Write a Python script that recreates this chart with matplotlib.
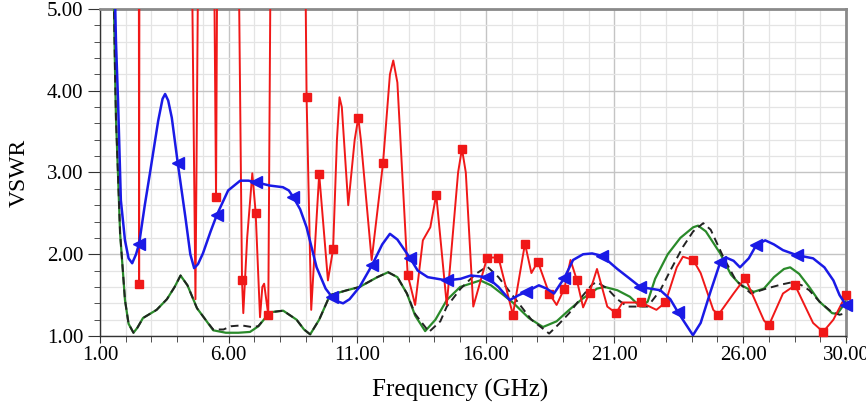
import numpy as np
import matplotlib
matplotlib.use('Agg')
import matplotlib.pyplot as plt
from matplotlib import ticker

# ---- data (GHz, VSWR); values above 5 are off the chart ----
red_f = [1.0, 2.50, 2.52, 2.54, 4.46, 4.71, 4.90, 5.35, 5.51, 5.61, 6.28, 6.52, 6.57, 6.72, 6.92,
         7.05, 7.22, 7.31, 7.38, 7.46, 7.54, 7.70, 8.88, 9.03, 9.21, 9.52, 9.86, 10.06, 10.21, 10.31,
         10.40, 10.65, 10.90, 11.04, 11.14, 11.56, 12.00, 12.27, 12.40, 12.56, 12.96, 13.25, 13.55,
         13.84, 14.07, 14.48, 14.92, 15.07, 15.22, 15.51, 16.05, 16.49, 17.05, 17.52, 17.77, 18.02,
         18.46, 18.75, 19.05, 19.29, 19.54, 19.78, 20.03, 20.32, 20.72, 21.06, 21.31, 22.04, 22.63,
         22.98, 23.42, 23.66, 24.06, 24.35, 24.84, 25.04, 25.63, 26.08, 26.81, 27.0, 27.55, 28.02,
         28.72, 29.11, 29.51, 30.0]
red_v = [9, 9, 1.64, 9, 9, 1.45, 9, 9, 2.70, 9, 9, 1.68, 1.28, 2.2, 2.99,
         2.51, 1.23, 1.6, 1.64, 1.45, 1.26, 9, 9, 3.92, 1.32, 2.98, 1.68, 2.06, 3.4, 3.92,
         3.8, 2.6, 3.4, 3.67, 3.4, 1.93, 3.11, 4.2, 4.37, 4.1, 1.75, 1.38, 2.17,
         2.33, 2.73, 1.38, 3.0, 3.29, 3.0, 1.36, 1.96, 1.96, 1.26, 2.13, 1.77, 1.91,
         1.52, 1.38, 1.58, 1.93, 1.68, 1.35, 1.53, 1.82, 1.36, 1.28, 1.41, 1.41, 1.32,
         1.41, 1.84, 1.97, 1.93, 1.77, 1.32, 1.26, 1.52, 1.71, 1.19, 1.13, 1.52, 1.62,
         1.16, 1.05, 1.2, 1.5]
red_marks = [2.52, 5.51, 6.52, 7.05, 7.54, 9.03, 9.52, 10.06, 11.04, 12.00, 12.96, 14.07, 15.07,
             16.05, 16.49, 17.05, 17.52, 18.02, 18.46, 19.05, 19.54, 20.03, 21.06, 22.04, 22.98,
             24.06, 25.04, 26.08, 27.0, 28.02, 29.11, 30.0]

blue_f = [1.55, 1.62, 1.70, 1.81, 1.97, 2.11, 2.25, 2.40, 2.52, 2.74, 2.94, 3.26, 3.43, 3.53, 3.65,
          3.79, 4.02, 4.32, 4.51, 4.66, 4.81, 5.00, 5.30, 5.54, 5.98, 6.45, 6.77, 7.07, 7.60, 8.11,
          8.34, 8.51, 8.78, 9.03, 9.42, 9.77, 10.01, 10.26, 10.45, 10.70, 11.09, 11.58, 11.97, 12.27,
          12.56, 13.06, 13.35, 13.74, 14.48, 15.02, 15.41, 16.05, 16.49, 16.93, 17.28, 17.57, 18.06,
          18.36, 18.65, 19.05, 19.39, 19.78, 20.13, 20.52, 21.11, 21.60, 22.00, 22.39, 22.78, 23.17,
          23.47, 23.76, 24.05, 24.35, 24.74, 25.11, 25.33, 25.63, 25.88, 26.22, 26.51, 26.86, 27.20,
          27.55, 28.08, 28.72, 29.16, 29.51, 29.75, 30.0]
blue_v = [5.6, 4.6, 3.88, 2.66, 2.17, 1.95, 1.89, 2.0, 2.13, 2.6, 2.99, 3.63, 3.9, 3.96, 3.88,
          3.67, 3.12, 2.45, 2.0, 1.83, 1.88, 2.01, 2.28, 2.48, 2.78, 2.90, 2.90, 2.88, 2.84, 2.82,
          2.78, 2.70, 2.55, 2.33, 1.84, 1.58, 1.48, 1.42, 1.40, 1.45, 1.60, 1.87, 2.12, 2.25,
          2.18, 1.95, 1.80, 1.72, 1.68, 1.70, 1.74, 1.72, 1.60, 1.44, 1.50, 1.54, 1.62,
          1.58, 1.52, 1.71, 1.93, 2.0, 2.01, 1.98, 1.82, 1.70, 1.60, 1.58, 1.56, 1.45,
          1.29, 1.15, 1.01, 1.16, 1.55, 1.90, 1.96, 1.92, 1.84, 1.95, 2.11, 2.17, 2.12,
          2.05, 1.99, 1.95, 1.84, 1.68, 1.50, 1.38]
blue_marks = [2.52, 4.02, 5.54, 7.07, 8.51, 10.01, 11.58, 13.06, 14.48, 16.05, 17.57, 19.05,
              20.52, 22.00, 23.47, 25.11, 26.51, 28.08, 30.0]

green_f = [1.52, 1.58, 1.62, 1.78, 1.97, 2.11, 2.30, 2.45, 2.67, 3.2, 3.6, 3.9, 4.13, 4.4, 4.77,
           5.10, 5.40, 5.89, 6.38, 6.83, 7.16, 7.60, 8.12, 8.64, 8.93, 9.17, 9.52, 9.94, 10.60,
           11.09, 11.78, 12.20, 12.56, 12.93, 13.25, 13.64, 14.04, 14.48, 15.00, 15.78, 16.20,
           16.69, 17.08, 17.67, 18.22, 18.75, 19.24, 19.73, 20.32, 20.62, 21.11, 21.60, 22.0,
           22.29, 22.58, 23.07, 23.56, 24.06, 24.25, 24.55, 25.11, 25.53, 25.88, 26.41, 26.81,
           27.20, 27.59, 27.83, 28.18, 28.57, 28.97, 29.46, 29.66, 30.0]
green_v = [5.5, 4.3, 3.67, 2.26, 1.44, 1.15, 1.04, 1.1, 1.22, 1.32, 1.45, 1.6, 1.74, 1.62, 1.34,
           1.2, 1.07, 1.04, 1.04, 1.05, 1.12, 1.29, 1.31, 1.2, 1.08, 1.02, 1.2, 1.50, 1.56,
           1.6, 1.72, 1.78, 1.72, 1.52, 1.25, 1.06, 1.2, 1.44, 1.6, 1.68, 1.62,
           1.50, 1.40, 1.22, 1.11, 1.18, 1.32, 1.45, 1.58, 1.60, 1.56, 1.48, 1.36,
           1.42, 1.7, 2.0, 2.2, 2.33, 2.35, 2.28, 2.01, 1.75, 1.63, 1.54, 1.58,
           1.72, 1.82, 1.84, 1.76, 1.60, 1.42, 1.28, 1.27, 1.42]

black_f = [1.52, 1.58, 1.62, 1.78, 1.97, 2.11, 2.30, 2.45, 2.67, 3.2, 3.6, 3.9, 4.13, 4.4, 4.77,
           5.10, 5.40, 5.8, 6.1, 6.5, 6.9, 7.15, 7.60, 8.12, 8.64, 8.93, 9.17, 9.52, 9.94, 10.60,
           11.09, 11.78, 12.20, 12.56, 12.93, 13.25, 13.79, 14.23, 14.48, 15.02, 15.61, 16.05,
           16.49, 17.08, 17.77, 18.46, 18.85, 19.24, 19.73, 20.13, 20.32, 20.72, 21.11, 21.50,
           22.29, 22.78, 23.17, 23.66, 24.06, 24.45, 24.74, 25.24, 25.72, 26.31, 26.90, 27.49,
           27.94, 28.28, 28.57, 28.97, 29.46, 29.75, 30.0]
black_v = [5.5, 4.3, 3.67, 2.26, 1.44, 1.15, 1.04, 1.1, 1.22, 1.32, 1.45, 1.6, 1.74, 1.62, 1.34,
           1.2, 1.08, 1.08, 1.12, 1.13, 1.11, 1.12, 1.29, 1.31, 1.2, 1.08, 1.02, 1.2, 1.50, 1.56,
           1.6, 1.72, 1.78, 1.72, 1.52, 1.27, 1.05, 1.18, 1.36, 1.58, 1.76, 1.85,
           1.72, 1.48, 1.2, 1.03, 1.15, 1.28, 1.48, 1.63, 1.66, 1.58, 1.45, 1.36,
           1.36, 1.56, 1.8, 2.09, 2.28, 2.38, 2.3, 1.96, 1.68, 1.52, 1.58, 1.63,
           1.66, 1.62, 1.56, 1.42, 1.29, 1.26, 1.28]

x_major = [1, 6, 11, 16, 21, 26, 30]


def marked(f, v, marks):
    f = np.asarray(f)
    v = np.asarray(v)
    sel = np.isin(f, marks)
    return f[sel], v[sel]


plt.rcParams['font.family'] = ['Liberation Serif', 'DejaVu Serif']
fig = plt.figure(figsize=(8.66, 4.07), dpi=100)
ax = fig.add_axes([0.1155, 0.1744, 0.8614, 0.8036])

# grid
ax.set_xlim(1, 30)
ax.set_ylim(1, 5)
ax.xaxis.set_major_locator(ticker.FixedLocator(x_major))
ax.xaxis.set_minor_locator(ticker.MultipleLocator(1))
ax.yaxis.set_major_locator(ticker.MultipleLocator(1))
ax.yaxis.set_minor_locator(ticker.MultipleLocator(0.2))
ax.xaxis.set_major_formatter(ticker.FormatStrFormatter('%.2f'))
ax.yaxis.set_major_formatter(ticker.FormatStrFormatter('%.2f'))
ax.grid(which='minor', color='#e4e4e4', linewidth=0.9)
ax.grid(which='major', color='#c4c4c4', linewidth=1.0)
ax.set_axisbelow(True)

# curves
ax.plot(green_f, green_v, color='#2a8a2a', linewidth=1.6, zorder=3)
ax.plot(black_f, black_v, color='#222222', linewidth=1.4, dashes=(4, 2.5), zorder=3)
ax.plot(red_f, red_v, color='#f01818', linewidth=1.4, zorder=4)
mf, mv = marked(red_f, red_v, red_marks)
ax.plot(mf, mv, 's', color='#f01818', markersize=5.5, clip_on=False, zorder=5)
ax.plot(blue_f, blue_v, color='#1a1ae6', linewidth=1.8, zorder=6)
mf, mv = marked(blue_f, blue_v, blue_marks)
ax.plot(mf, mv, '<', color='#1a1ae6', markersize=8, clip_on=False, zorder=7)

# frame and ticks
for side in ['top', 'right']:
    ax.spines[side].set_color('#8a8a8a')
    ax.spines[side].set_linewidth(2.0)
for side in ['left', 'bottom']:
    ax.spines[side].set_color('#333333')
    ax.spines[side].set_linewidth(1.0)
ax.tick_params(which='both', direction='out', color='#333333', labelsize=15)
ax.tick_params(axis='y', which='major', length=9, pad=3)
ax.tick_params(axis='y', which='minor', length=4)
ax.tick_params(axis='x', which='major', length=5, pad=2)
ax.tick_params(axis='x', which='minor', length=4)
ax.tick_params(top=False, right=False, which='both')

ax.set_xlabel('Frequency (GHz)', fontsize=18)
ax.xaxis.set_label_coords((460 - 100) / 746.0, -0.13)
ax.set_ylabel('VSWR', fontsize=17)
ax.yaxis.set_label_coords(-0.094, 0.5)

fig.savefig('out.png', dpi=100)
